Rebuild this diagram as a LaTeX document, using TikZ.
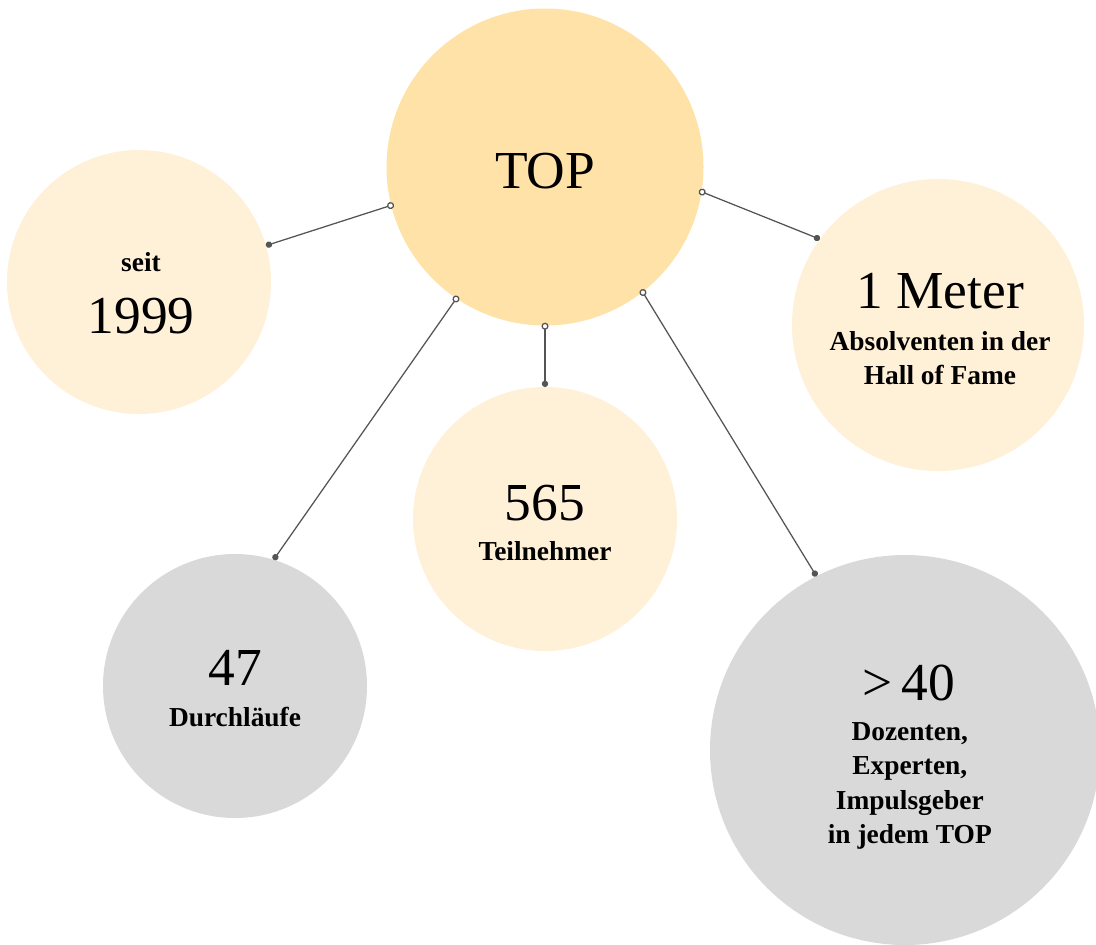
\documentclass[tikz,border=0pt]{standalone}
\usepackage{fontspec}
\setmainfont{Liberation Serif}
\usepackage{tikz}
\usetikzlibrary{arrows.meta,positioning}
\definecolor{topfill}{HTML}{FFE2A8}
\definecolor{palefill}{HTML}{FFF0D8}
\definecolor{greyfill}{HTML}{D9D9D9}
\definecolor{linegrey}{HTML}{555555}
\tikzstyle{bubble} = [circle, fill=palefill, inner sep=0pt, outer sep=0pt, minimum size=6.6cm]
\tikzstyle{num} = [anchor=base, inner sep=0pt, font=\fontsize{38}{40}\selectfont]
\tikzstyle{lbl} = [anchor=base, inner sep=0pt, align=center, font=\fontsize{19.5}{24.5}\selectfont\bfseries]
\tikzstyle{line} = [draw=linegrey, line width=0.9pt, shorten <=-2pt,
    {Circle[open,fill=white,length=5pt]}-{Circle[length=4.5pt]}]

\begin{document}
\begin{tikzpicture}
    \useasboundingbox (0,0) rectangle (27.4,-23.6);
    % Place nodes
    \node [bubble, fill=topfill, minimum size=7.925cm] (top) at (13.625,-4.175) {};
    \node [bubble] (since) at (3.475,-7.05) {};
    \node [bubble, minimum size=7.3cm] (meter) at (23.45,-8.125) {};
    \node [bubble] (members) at (13.625,-12.975) {};
    \node [bubble, fill=greyfill] (runs) at (5.875,-17.15) {};
    \node [bubble, fill=greyfill, minimum size=9.75cm] (experts) at (22.625,-18.75) {};
    % Texts
    \node [num] (toptxt) at ([yshift=-0.525cm]top.center) {TOP};
    \node [lbl] (sincelbl) at ([xshift=0.05cm,yshift=0.275cm]since.center) {seit};
    \node [num] (sincenum) at ([xshift=0.05cm,yshift=-1.275cm]since.center) {1999};
    \node [num] (meternum) at ([xshift=0.05cm,yshift=0.425cm]meter.center) {1 Meter};
    \node [lbl, anchor=north] (meterlbl) at ([xshift=0.05cm,yshift=-0.15cm]meter.center) {Absolventen in der\\Hall of Fame};
    \node [num] (membersnum) at ([yshift=-0.025cm]members.center) {565};
    \node [lbl] (memberslbl) at ([yshift=-1.025cm]members.center) {Teilnehmer};
    \node [num] (runsnum) at ([yshift=0.025cm]runs.center) {47};
    \node [lbl] (runslbl) at ([yshift=-1.0cm]runs.center) {Durchläufe};
    \node [num] (expertsnum) at ([xshift=0.1cm,yshift=1.25cm]experts.center) {>\,40};
    \node [lbl, anchor=north] (expertslbl) at ([xshift=0.12cm,yshift=0.7cm]experts.center) {Dozenten,\\Experten,\\Impulsgeber\\in jedem TOP};
    % Draw edges
    \path [line] (top.194.4) -- (since.16.8);
    \path [line] (top.270) -- (members.90);
    \path [line] (top.351.2) -- (meter.144.3);
    \path [line] (top.236) -- (runs.73.5);
    \path [line] (top.308.2) -- (experts.117.2);
\end{tikzpicture}
\end{document}
